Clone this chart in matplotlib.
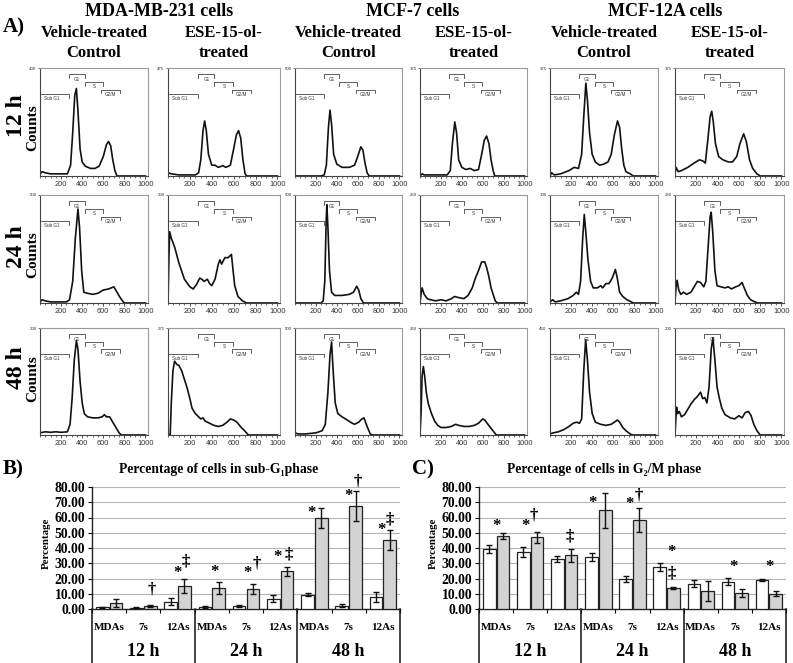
import matplotlib
matplotlib.use('Agg')
import matplotlib.pyplot as plt
import numpy as np
from matplotlib.transforms import blended_transform_factory
from matplotlib.ticker import MultipleLocator

# ---------------- data ----------------
row_labels = ['12 h', '24 h', '48 h']
cell_lines = ['MDA-MB-231 cells', 'MCF-7 cells', 'MCF-12A cells']
treatments = ['Vehicle-treated\nControl', 'ESE-15-ol-\ntreated']
hist_ymax = [[400, 475, 500, 375, 375, 375],
             [500, 300, 500, 250, 300, 250],
             [300, 275, 500, 250, 450, 200]]
hist_xticks = [200, 400, 600, 800, 1000]
gates = ['Sub G1', 'G1', 'S', 'G2/M']
gate_from = [0, 277, 425, 581]
gate_to = [277, 425, 597, 761]
gate_level = [0.76, 0.94, 0.87, 0.80]

# histogram curves: channel, height as fraction of the panel's axis maximum
mda_veh_12h_x = [0,20,50,100,200,260,290,310,330,345,360,380,400,430,480,520,560,600,630,650,670,690,710,730,1000]
mda_veh_12h_y = [0.02,0.04,0.03,0.02,0.02,0.02,0.1,0.4,0.75,0.81,0.6,0.25,0.13,0.09,0.07,0.07,0.09,0.18,0.29,0.32,0.28,0.15,0.05,0.0,0]
mda_ese_12h_x = [0,30,100,250,280,300,320,335,350,370,400,430,460,500,530,570,600,625,645,665,685,705,720,1000]
mda_ese_12h_y = [0.03,0.02,0.01,0.01,0.03,0.15,0.42,0.51,0.42,0.2,0.1,0.1,0.08,0.095,0.08,0.1,0.25,0.38,0.42,0.35,0.15,0.02,0,0]
mcf7_veh_12h_x = [0,250,280,300,320,335,350,370,400,450,520,570,600,630,650,670,690,710,1000]
mcf7_veh_12h_y = [0,0,0.01,0.1,0.45,0.61,0.48,0.2,0.11,0.08,0.08,0.1,0.18,0.27,0.24,0.12,0.03,0,0]
mcf7_ese_12h_x = [0,20,40,150,260,290,310,333,350,370,400,440,480,520,560,590,615,637,660,680,700,715,1000]
mcf7_ese_12h_y = [0,0.02,0.01,0.01,0.01,0.05,0.3,0.5,0.4,0.15,0.08,0.06,0.07,0.05,0.06,0.2,0.33,0.37,0.3,0.15,0.05,0,0]
mcf12a_veh_12h_x = [0,15,40,100,180,230,270,300,320,340,355,375,400,430,470,510,550,580,610,640,660,680,700,720,760,790,1000]
mcf12a_veh_12h_y = [0,0.03,0.01,0.02,0.05,0.08,0.07,0.2,0.55,0.86,0.7,0.4,0.2,0.13,0.1,0.11,0.13,0.2,0.38,0.51,0.45,0.25,0.1,0.04,0.02,0,0]
mcf12a_ese_12h_x = [0,10,30,60,120,180,230,260,285,310,330,345,360,380,410,450,500,540,580,610,645,670,700,730,770,800,1000]
mcf12a_ese_12h_y = [0.02,0.08,0.04,0.05,0.08,0.12,0.15,0.14,0.12,0.35,0.55,0.6,0.5,0.3,0.18,0.15,0.13,0.13,0.18,0.3,0.39,0.32,0.15,0.07,0.02,0,0]

mda_veh_24h_x = [0,20,50,100,250,280,310,335,360,375,395,415,450,500,550,600,650,700,730,760,790,800,1000]
mda_veh_24h_y = [0.01,0.03,0.02,0.01,0.01,0.03,0.2,0.6,0.87,0.7,0.3,0.1,0.09,0.08,0.09,0.12,0.13,0.15,0.1,0.05,0.01,0,0]
mda_ese_24h_x = [0,8,15,30,60,100,150,200,230,260,290,310,330,360,380,400,430,460,475,490,520,550,580,595,610,640,680,720,1000]
mda_ese_24h_y = [0,0.4,0.66,0.6,0.52,0.37,0.22,0.15,0.13,0.17,0.23,0.22,0.2,0.22,0.18,0.16,0.22,0.36,0.4,0.36,0.42,0.42,0.45,0.3,0.16,0.06,0.02,0,0]
mcf7_veh_24h_x = [0,250,270,285,298,305,315,330,350,380,450,520,560,590,610,630,655,1000]
mcf7_veh_24h_y = [0,0,0.02,0.2,0.75,0.91,0.7,0.3,0.1,0.07,0.07,0.08,0.1,0.155,0.12,0.04,0,0]
mcf7_ese_24h_x = [0,10,20,40,70,100,150,200,250,300,330,370,420,460,500,530,560,590,620,640,660,680,700,720,740,1000]
mcf7_ese_24h_y = [0,0.08,0.14,0.08,0.04,0.03,0.02,0.03,0.02,0.04,0.06,0.05,0.04,0.07,0.14,0.23,0.3,0.38,0.38,0.32,0.24,0.14,0.08,0.02,0,0]
mcf12a_veh_24h_x = [0,25,50,100,170,220,250,270,290,310,325,340,360,385,410,450,480,500,530,560,590,620,640,660,690,730,770,790,1000]
mcf12a_veh_24h_y = [0.01,0.03,0.01,0.02,0.04,0.07,0.1,0.08,0.2,0.6,0.82,0.65,0.4,0.2,0.14,0.14,0.16,0.14,0.18,0.18,0.23,0.31,0.22,0.1,0.06,0.03,0.01,0,0]
mcf12a_ese_24h_x = [0,10,20,35,55,80,110,150,180,210,240,270,290,310,330,340,355,375,395,430,470,500,530,570,600,630,650,680,710,750,780,1000]
mcf12a_ese_24h_y = [0.02,0.15,0.21,0.12,0.08,0.1,0.08,0.1,0.15,0.2,0.19,0.15,0.2,0.5,0.8,0.84,0.65,0.3,0.16,0.15,0.14,0.15,0.13,0.15,0.16,0.19,0.14,0.07,0.03,0.01,0,0]

mda_veh_48h_x = [0,50,100,150,200,260,285,305,325,345,360,380,400,420,450,500,550,590,610,630,660,690,720,750,770,1000]
mda_veh_48h_y = [0.02,0.03,0.025,0.03,0.025,0.03,0.1,0.35,0.7,0.88,0.8,0.5,0.3,0.2,0.17,0.16,0.16,0.17,0.19,0.17,0.17,0.12,0.07,0.02,0,0]
mda_ese_48h_x = [0,20,30,45,60,80,100,125,150,175,200,220,250,270,300,320,340,380,420,460,500,540,570,600,630,670,700,735,1000]
mda_ese_48h_y = [0,0,0.3,0.6,0.69,0.66,0.65,0.6,0.52,0.44,0.34,0.25,0.2,0.18,0.15,0.16,0.13,0.11,0.09,0.08,0.09,0.12,0.15,0.14,0.12,0.07,0.04,0,0]
mcf7_veh_48h_x = [0,30,100,200,260,290,315,335,350,365,385,410,450,500,530,570,610,640,660,690,720,740,1000]
mcf7_veh_48h_y = [0.02,0.01,0.01,0.02,0.04,0.1,0.4,0.75,0.87,0.6,0.3,0.2,0.17,0.14,0.12,0.1,0.12,0.15,0.16,0.08,0.01,0,0]
mcf7_ese_48h_x = [0,10,20,32,45,60,80,110,140,170,200,250,300,340,370,420,470,520,560,600,620,650,690,730,1000]
mcf7_ese_48h_y = [0,0.2,0.55,0.64,0.55,0.4,0.29,0.2,0.13,0.09,0.07,0.07,0.08,0.1,0.09,0.08,0.08,0.09,0.11,0.15,0.14,0.1,0.05,0,0]
mcf12a_veh_48h_x = [0,30,80,130,180,220,250,280,300,320,338,355,375,400,430,480,530,580,610,640,660,690,720,760,780,1000]
mcf12a_veh_48h_y = [0.01,0.02,0.03,0.05,0.08,0.11,0.12,0.11,0.15,0.6,0.89,0.7,0.4,0.2,0.12,0.1,0.09,0.1,0.12,0.14,0.12,0.07,0.04,0.01,0,0]
mcf12a_ese_48h_x = [0,8,15,25,40,60,90,120,150,180,210,240,260,280,300,320,340,356,375,395,415,440,470,520,560,600,630,660,690,715,740,770,800,1000]
mcf12a_ese_48h_y = [0,0.15,0.26,0.2,0.22,0.17,0.19,0.24,0.29,0.33,0.36,0.4,0.34,0.35,0.3,0.45,0.8,0.91,0.7,0.45,0.35,0.25,0.19,0.16,0.15,0.18,0.16,0.21,0.22,0.18,0.1,0.04,0,0]

curves = [
    [(mda_veh_12h_x, mda_veh_12h_y), (mda_ese_12h_x, mda_ese_12h_y), (mcf7_veh_12h_x, mcf7_veh_12h_y),
     (mcf7_ese_12h_x, mcf7_ese_12h_y), (mcf12a_veh_12h_x, mcf12a_veh_12h_y), (mcf12a_ese_12h_x, mcf12a_ese_12h_y)],
    [(mda_veh_24h_x, mda_veh_24h_y), (mda_ese_24h_x, mda_ese_24h_y), (mcf7_veh_24h_x, mcf7_veh_24h_y),
     (mcf7_ese_24h_x, mcf7_ese_24h_y), (mcf12a_veh_24h_x, mcf12a_veh_24h_y), (mcf12a_ese_24h_x, mcf12a_ese_24h_y)],
    [(mda_veh_48h_x, mda_veh_48h_y), (mda_ese_48h_x, mda_ese_48h_y), (mcf7_veh_48h_x, mcf7_veh_48h_y),
     (mcf7_ese_48h_x, mcf7_ese_48h_y), (mcf12a_veh_48h_x, mcf12a_veh_48h_y), (mcf12a_ese_48h_x, mcf12a_ese_48h_y)],
]

# bar charts
bar_categories = ['MDAs', '7s', '12As'] * 3
bar_groups = ['12 h', '24 h', '48 h']
subg1_ctrl = [1.0, 0.8, 4.8, 1.2, 1.8, 6.8, 9.5, 2.2, 7.7]
subg1_ctrl_err = [0.3, 0.2, 2.2, 0.5, 0.6, 2.3, 1.2, 1.2, 3.2]
subg1_ese = [4.0, 2.2, 14.9, 13.8, 13.3, 24.7, 59.7, 67.8, 45.5]
subg1_ese_err = [2.4, 0.6, 4.6, 4.1, 3.3, 2.8, 6.5, 9.8, 6.6]
g2m_ctrl = [39.5, 37.3, 32.9, 34.2, 19.5, 27.4, 16.7, 17.8, 19.1]
g2m_ctrl_err = [2.5, 3.3, 2.0, 2.4, 2.1, 2.7, 2.0, 2.3, 0.9]
g2m_ese = [47.6, 46.9, 35.3, 64.7, 58.5, 13.6, 11.8, 10.5, 10.1]
g2m_ese_err = [2.0, 3.6, 4.3, 11.5, 7.7, 0.5, 6.8, 2.4, 1.4]
subg1_marks = [(1.26, 12.5, '†'), (2.0, 23.4, '*'), (2.24, 31.0, '‡'), (3.07, 24.5, '*'),
               (4.04, 23.4, '*'), (4.3, 30.0, '†'), (4.92, 34.0, '*'), (5.25, 35.5, '‡'),
               (5.92, 63.0, '*'), (7.0, 74.0, '*'), (7.28, 83.5, '†'), (7.97, 52.0, '*'),
               (8.21, 58.5, '‡')]
g2m_marks = [(0.0, 54.6, '*'), (0.85, 54.6, '*'), (1.11, 61.6, '†'), (2.17, 47.4, '‡'),
             (2.82, 69.3, '*'), (3.91, 68.6, '*'), (4.17, 74.7, '†'), (5.13, 37.2, '*'),
             (5.15, 23.4, '‡'), (6.96, 27.7, '*'), (8.03, 27.7, '*')]

# ---------------- layout ----------------
W, H = 793, 663
fig = plt.figure(figsize=(W / 100, H / 100), dpi=100)
SERIF = ['Liberation Serif', 'DejaVu Serif']
SANS = ['Liberation Sans', 'DejaVu Sans']


def rect(x0, y0, x1, y1):
    return [x0 / W, 1 - y1 / H, (x1 - x0) / W, (y1 - y0) / H]


def ftext(x, y, s, **kw):
    kw.setdefault('family', SERIF)
    kw.setdefault('fontweight', 'bold')
    fig.text(x / W, 1 - y / H, s, **kw)


col_px = [(40, 148), (168, 280), (295, 402), (420, 527), (550, 658), (675, 784)]
row_px = [(68, 176), (195, 303), (328, 435)]

for r in range(3):
    for c in range(6):
        x0, x1 = col_px[c]
        y0, y1 = row_px[r]
        ax = fig.add_axes(rect(x0, y0, x1, y1))
        xs, rel = curves[r][c]
        ymax = hist_ymax[r][c]
        ax.plot(xs, np.array(rel) * ymax, color='#111111', lw=1.2)
        ax.set_xlim(0, 1024)
        ax.set_ylim(0, ymax)
        ax.set_xticks(hist_xticks)
        ax.set_xticklabels([str(v) for v in hist_xticks], family=SANS)
        ax.xaxis.set_minor_locator(MultipleLocator(50))
        ax.tick_params(axis='x', which='major', labelsize=5.3, length=2, width=0.6, pad=1.5,
                       colors='#333333')
        ax.tick_params(axis='x', which='minor', length=1.2, width=0.5, colors='#333333')
        ax.set_yticks([ymax])
        ax.set_yticklabels([str(ymax)], family=SANS)
        ax.tick_params(axis='y', labelsize=3.2, length=1.5, width=0.5, pad=1, colors='#333333')
        for side in ['top', 'right']:
            ax.spines[side].set_color('#9a9a9a')
            ax.spines[side].set_linewidth(0.8)
        for side in ['left', 'bottom']:
            ax.spines[side].set_color('#444444')
            ax.spines[side].set_linewidth(0.8)
        tr = blended_transform_factory(ax.transData, ax.transAxes)
        for g, a, b, lv in zip(gates, gate_from, gate_to, gate_level):
            ax.plot([a, a, b, b], [lv - 0.035, lv, lv, lv - 0.035], transform=tr,
                    color='#444444', lw=0.6, clip_on=False)
            if g == 'Sub G1':
                ax.text(a + 40, lv - 0.02, g, transform=tr, ha='left', va='top',
                        fontsize=3.3, family=SANS, color='#333333')
            else:
                ax.text((a + b) / 2, lv - 0.02, g, transform=tr, ha='center', va='top',
                        fontsize=3.3, family=SANS, color='#333333')

# headers
ftext(3, 27, 'A)', fontsize=15, ha='left', va='center')
head_x = [159, 413, 665]
for k, name in enumerate(cell_lines):
    ftext(head_x[k], 12, name, fontsize=13, ha='center', va='center')
for c in range(6):
    cx = (col_px[c][0] + col_px[c][1]) / 2
    lines = treatments[c % 2].split('\n')
    ftext(cx, 33, lines[0], fontsize=12, ha='center', va='center')
    ftext(cx, 53, lines[1], fontsize=12, ha='center', va='center')

row_lab_y = [116, 247, 368]
counts_y = [128, 255, 379]
for r in range(3):
    ftext(16, row_lab_y[r], row_labels[r], fontsize=17, ha='center', va='center', rotation=90)
    ftext(33, counts_y[r], 'Counts', fontsize=11, ha='center', va='center', rotation=90)


def bar_panel(px, ctrl, ctrl_err, ese, ese_err, marks, title, title_x, letter, letter_x, ylab_x):
    ax = fig.add_axes(rect(*px))
    idx = np.arange(len(ctrl))
    ek = dict(ecolor='#111111', elinewidth=1.0, capsize=2.2, capthick=1.0)
    ax.bar(idx - 0.2, ctrl, 0.37, yerr=ctrl_err, color='white', edgecolor='#222222',
           linewidth=0.9, error_kw=ek, zorder=3)
    ax.bar(idx + 0.2, ese, 0.37, yerr=ese_err, color='#d3d3d3', edgecolor='#222222',
           linewidth=0.9, error_kw=ek, zorder=3)
    ax.set_xlim(-0.5, 8.5)
    ax.set_ylim(0, 80)
    yt = np.arange(0, 81, 10)
    ax.set_yticks(yt)
    ax.set_yticklabels([f'{v:.2f}' for v in yt], family=SERIF, fontweight='bold', fontsize=9.8)
    ax.yaxis.grid(True, color='#b5b5b5', lw=0.8, zorder=0)
    ax.set_axisbelow(True)
    ax.spines['top'].set_visible(False)
    ax.spines['right'].set_visible(False)
    ax.spines['left'].set_color('#222222')
    ax.spines['bottom'].set_color('#222222')
    ax.spines['left'].set_linewidth(1.0)
    ax.spines['bottom'].set_linewidth(1.0)
    ax.tick_params(axis='y', length=3, width=0.8, pad=2)
    ax.set_xticks(np.arange(-0.5, 9, 1))
    ax.set_xticklabels([])
    ax.tick_params(axis='x', length=3, width=0.8)
    tr = blended_transform_factory(ax.transData, ax.transAxes)
    hpx = px[3] - px[1]
    for i, lab in enumerate(bar_categories):
        ax.text(i, -(627 - px[3]) / hpx, lab, transform=tr, ha='center', va='center',
                fontsize=8, fontweight='bold', family=SERIF)
    for g, lab in enumerate(bar_groups):
        ax.text(3 * g + 1, -(652 - px[3]) / hpx, lab, transform=tr, ha='center', va='center',
                fontsize=13, fontweight='bold', family=SERIF)
    for xb in [-0.5, 2.5, 5.5, 8.5]:
        ax.plot([xb, xb], [0, -(666 - px[3]) / hpx], transform=tr, clip_on=False,
                color='#111111', lw=1.1)
    for mx, my, s in marks:
        ax.text(mx, my, s, ha='center', va='center', fontsize=12, fontweight='bold',
                family=SERIF, zorder=5)
    ftext(title_x, 469, title, fontsize=9.8, ha='center', va='center')
    ftext(letter_x, 469, letter, fontsize=15, ha='left', va='center')
    ftext(ylab_x, 543, 'Percentage', fontsize=7.8, ha='center', va='center', rotation=90)


bar_panel((92, 487, 400, 609), subg1_ctrl, subg1_ctrl_err, subg1_ese, subg1_ese_err,
          subg1_marks, 'Percentage of cells in sub-G₁phase', 219, 'B)', 3, 46)
bar_panel((479, 487, 786, 609), g2m_ctrl, g2m_ctrl_err, g2m_ese, g2m_ese_err,
          g2m_marks, 'Percentage of cells in G₂/M phase', 604, 'C)', 412, 433)

fig.savefig('out.png', dpi=100)
